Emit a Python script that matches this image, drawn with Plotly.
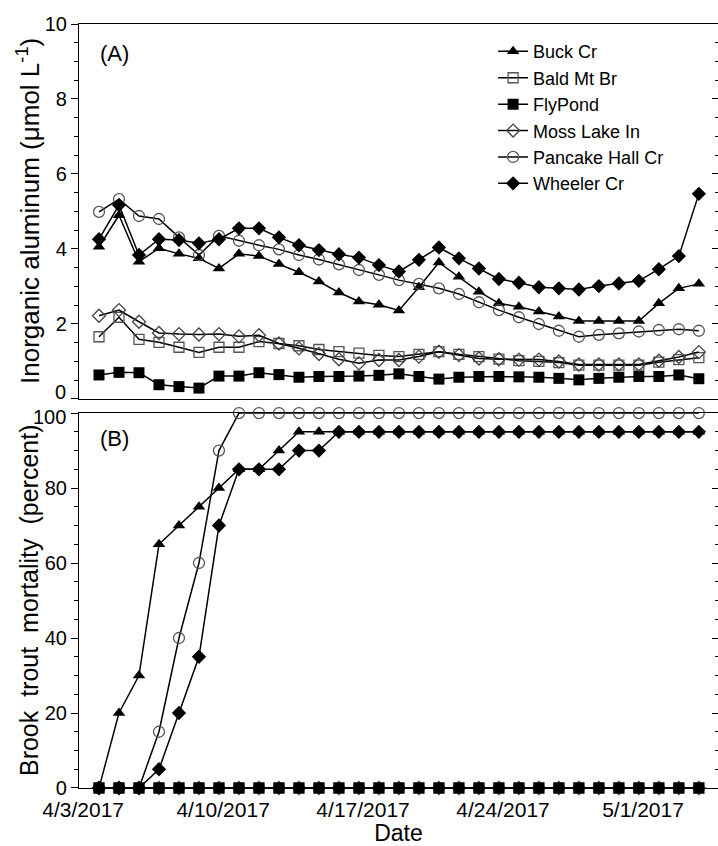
import plotly.graph_objects as go
import pandas as pd

# ---------------- data ----------------
dates = pd.date_range("2017-04-03 19:00", periods=31, freq="D")

series_names = ["Buck Cr", "Bald Mt Br", "FlyPond", "Moss Lake In", "Pancake Hall Cr", "Wheeler Cr"]

buck_al = [4.06, 4.9, 3.66, 4.02, 3.87, 3.75, 3.48, 3.87, 3.81, 3.6, 3.38, 3.13, 2.84, 2.6, 2.51, 2.36,
           2.98, 3.64, 3.26, 2.86, 2.55, 2.46, 2.33, 2.2, 2.08, 2.08, 2.08, 2.08, 2.55, 2.95, 3.07]
bald_al = [1.66, 2.18, 1.59, 1.51, 1.38, 1.24, 1.38, 1.38, 1.53, 1.48, 1.42, 1.32, 1.26, 1.22, 1.16, 1.13,
           1.19, 1.26, 1.19, 1.13, 1.06, 1.02, 1.0, 0.97, 0.9, 0.9, 0.9, 0.9, 0.98, 1.05, 1.1]
fly_al = [0.64, 0.71, 0.7, 0.38, 0.33, 0.29, 0.61, 0.61, 0.7, 0.65, 0.58, 0.6, 0.6, 0.61, 0.63, 0.67,
          0.6, 0.53, 0.58, 0.6, 0.6, 0.59, 0.58, 0.55, 0.51, 0.55, 0.58, 0.6, 0.6, 0.64, 0.54]
moss_al = [2.22, 2.37, 2.06, 1.76, 1.73, 1.72, 1.73, 1.67, 1.7, 1.48, 1.35, 1.2, 1.06, 0.95, 1.04, 1.04,
           1.13, 1.26, 1.17, 1.08, 1.06, 1.05, 1.05, 1.0, 0.92, 0.92, 0.92, 0.92, 1.02, 1.12, 1.25]
pancake_al = [4.99, 5.33, 4.88, 4.8, 4.31, 3.84, 4.35, 4.22, 4.1, 3.99, 3.84, 3.72, 3.59, 3.44, 3.31, 3.17,
              3.07, 2.95, 2.8, 2.58, 2.37, 2.18, 2.0, 1.82, 1.66, 1.71, 1.75, 1.8, 1.84, 1.86, 1.82]
wheeler_al = [4.26, 5.17, 3.84, 4.26, 4.24, 4.15, 4.26, 4.55, 4.55, 4.31, 4.1, 3.97, 3.86, 3.77, 3.57, 3.4,
              3.71, 4.04, 3.75, 3.48, 3.2, 3.1, 2.98, 2.95, 2.92, 3.01, 3.08, 3.15, 3.46, 3.81, 5.47]

buck_mort = [0, 20, 30, 65, 70, 75, 80, 85, 85, 90, 95, 95, 95, 95, 95, 95,
             95, 95, 95, 95, 95, 95, 95, 95, 95, 95, 95, 95, 95, 95, 95]
bald_mort = [0, 0, 0, 0, 0, 0, 0, 0, 0, 0, 0, 0, 0, 0, 0, 0,
             0, 0, 0, 0, 0, 0, 0, 0, 0, 0, 0, 0, 0, 0, 0]
fly_mort = [0, 0, 0, 0, 0, 0, 0, 0, 0, 0, 0, 0, 0, 0, 0, 0,
            0, 0, 0, 0, 0, 0, 0, 0, 0, 0, 0, 0, 0, 0, 0]
moss_mort = [0, 0, 0, 0, 0, 0, 0, 0, 0, 0, 0, 0, 0, 0, 0, 0,
             0, 0, 0, 0, 0, 0, 0, 0, 0, 0, 0, 0, 0, 0, 0]
pancake_mort = [0, 0, 0, 15, 40, 60, 90, 100, 100, 100, 100, 100, 100, 100, 100, 100,
                100, 100, 100, 100, 100, 100, 100, 100, 100, 100, 100, 100, 100, 100, 100]
wheeler_mort = [0, 0, 0, 5, 20, 35, 70, 85, 85, 85, 90, 90, 95, 95, 95, 95,
                95, 95, 95, 95, 95, 95, 95, 95, 95, 95, 95, 95, 95, 95, 95]

tick_dates = ["2017-04-03", "2017-04-10", "2017-04-17", "2017-04-24", "2017-05-01"]
tick_text = ["4/3/2017", "4/10/2017", "4/17/2017", "4/24/2017", "5/1/2017"]
x_range = ["2017-04-02 19:00", "2017-05-04 18:00"]

al_ticks = [0, 2, 4, 6, 8, 10]
al_ticktext = ["", "2", "4", "6", "8", "10"]      # "0" drawn separately (nudged up)
mort_ticks = [0, 20, 40, 60, 80, 100]
mort_ticktext = ["0", "20", "40", "60", "80", ""]  # "100" drawn separately (nudged down)

al_title = "Inorganic aluminum (\u03bcmol L<sup>-1</sup>)"
mort_title = "Brook\u00a0 trout\u00a0 mortality\u00a0 (percent)"

# ---------------- styles ----------------
FONT = "Liberation Sans, Arial, sans-serif"
styles = {
    "Buck Cr": dict(symbol="triangle-up", size=11, color="black", line=dict(width=0)),
    "Bald Mt Br": dict(symbol="square-open", size=10, color="#555555", line=dict(width=1.3, color="#555555")),
    "FlyPond": dict(symbol="square", size=11, color="black", line=dict(width=0)),
    "Moss Lake In": dict(symbol="diamond-open", size=10, color="#444444", line=dict(width=1.3, color="#444444")),
    "Pancake Hall Cr": dict(symbol="circle-open", size=11, color="#555555", line=dict(width=1.3, color="#555555")),
    "Wheeler Cr": dict(symbol="diamond", size=11, color="black", line=dict(width=0)),
}

al_data = dict(zip(series_names, [buck_al, bald_al, fly_al, moss_al, pancake_al, wheeler_al]))
mort_data = dict(zip(series_names, [buck_mort, bald_mort, fly_mort, moss_mort, pancake_mort, wheeler_mort]))

fig = go.Figure()

for name in series_names:
    fig.add_trace(go.Scatter(
        x=dates, y=al_data[name], name=name, mode="lines+markers",
        line=dict(color="black", width=1.5), marker=styles[name],
        xaxis="x", yaxis="y", legendgroup=name, cliponaxis=False,
    ))

bottom_order = ["Bald Mt Br", "Moss Lake In", "Pancake Hall Cr", "Wheeler Cr", "Buck Cr", "FlyPond"]
for name in bottom_order:
    fig.add_trace(go.Scatter(
        x=dates, y=mort_data[name], name=name, mode="lines+markers",
        line=dict(color="black", width=1.5), marker=styles[name],
        xaxis="x2", yaxis="y2", showlegend=False, legendgroup=name, cliponaxis=False,
    ))

top_dom = [0.5092, 1.0]
bot_dom = [0.0, 0.4908]

axis_common = dict(showline=True, linecolor="black", linewidth=1.2, showgrid=False, zeroline=False)

fig.update_layout(
    width=718, height=846,
    margin=dict(l=79, r=0, t=24, b=58),
    paper_bgcolor="white", plot_bgcolor="white",
    font=dict(family=FONT, color="black"),
    showlegend=True,
    legend=dict(x=0.648, y=0.988, xanchor="left", yanchor="top",
                font=dict(size=18, family=FONT), bgcolor="rgba(0,0,0,0)",
                tracegroupgap=0, itemwidth=30),
    xaxis=dict(**axis_common, type="date", range=x_range, domain=[0, 1], anchor="y",
               mirror=True, showticklabels=False, ticks=""),
    xaxis2=dict(**axis_common, type="date", range=x_range, domain=[0, 1], anchor="y2",
                mirror=True, tickvals=tick_dates, ticktext=tick_text, ticks="",
                tickfont=dict(size=21, family=FONT), ticklabelstandoff=3,
                title=dict(text="Date", font=dict(size=23, family=FONT), standoff=7)),
    yaxis=dict(**axis_common, domain=top_dom, anchor="x", range=[0, 10], mirror=True,
               tickvals=al_ticks, ticktext=al_ticktext, ticks="outside", ticklen=7, tickcolor="black",
               tickfont=dict(size=20, family=FONT),
               minor=dict(dtick=0.5, ticks="outside", ticklen=4, tickcolor="black")),
    yaxis2=dict(**axis_common, domain=bot_dom, anchor="x2", range=[0, 100], mirror=True,
                tickvals=mort_ticks, ticktext=mort_ticktext, ticks="outside", ticklen=7, tickcolor="black",
                tickfont=dict(size=20, family=FONT),
                minor=dict(dtick=5, ticks="outside", ticklen=4, tickcolor="black")),
    yaxis3=dict(overlaying="y", side="right", anchor="x", range=[0, 10], showgrid=False, zeroline=False,
                showticklabels=False, tickvals=al_ticks, ticks="inside", ticklen=6,
                tickcolor="black", minor=dict(dtick=0.5, ticks="inside", ticklen=3, tickcolor="black")),
    yaxis4=dict(overlaying="y2", side="right", anchor="x2", range=[0, 100], showgrid=False, zeroline=False,
                showticklabels=False, tickvals=mort_ticks, ticks="inside", ticklen=6,
                tickcolor="black", minor=dict(dtick=5, ticks="inside", ticklen=3, tickcolor="black")),
    annotations=[
        dict(text="(A)", xref="paper", yref="paper", x=0.029, y=0.962, xanchor="left", yanchor="middle",
             showarrow=False, font=dict(size=22, family=FONT)),
        dict(text="(B)", xref="paper", yref="paper", x=0.029, y=0.458, xanchor="left", yanchor="middle",
             showarrow=False, font=dict(size=22, family=FONT)),
        dict(text=al_title, xref="paper", yref="paper", x=-0.079, y=0.7546, xanchor="center",
             yanchor="middle", textangle=-90, showarrow=False, font=dict(size=26, family=FONT)),
        dict(text=mort_title, xref="paper", yref="paper", x=-0.079, y=0.2454, xanchor="center",
             yanchor="middle", textangle=-90, showarrow=False, font=dict(size=25, family=FONT)),
        # end-of-range tick labels, nudged apart as in the reference
        dict(text="0", xref="paper", yref="paper", x=-0.0172, y=0.5092, yshift=7, xanchor="right",
             yanchor="middle", showarrow=False, font=dict(size=20, family=FONT)),
        dict(text="100", xref="paper", yref="paper", x=-0.0172, y=0.4908, yshift=-4, xanchor="right",
             yanchor="middle", showarrow=False, font=dict(size=20, family=FONT)),
    ],
)

# invisible traces to activate the right-hand tick axes
fig.add_trace(go.Scatter(x=[dates[0]], y=[0], xaxis="x", yaxis="y3", mode="markers",
                         marker=dict(opacity=0), showlegend=False, hoverinfo="skip"))
fig.add_trace(go.Scatter(x=[dates[0]], y=[0], xaxis="x2", yaxis="y4", mode="markers",
                         marker=dict(opacity=0), showlegend=False, hoverinfo="skip"))

fig.write_html("out.html")
